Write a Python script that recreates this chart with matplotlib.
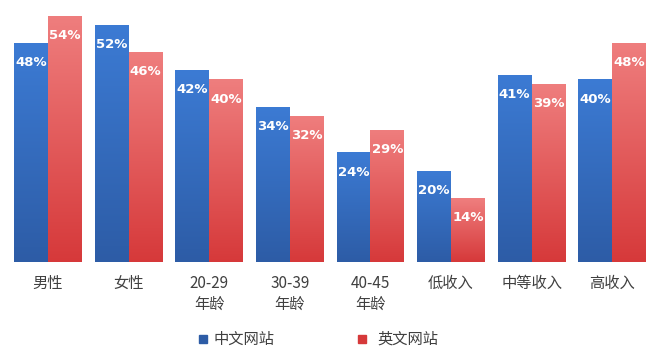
import numpy as np
import matplotlib.pyplot as plt
from matplotlib.colors import LinearSegmentedColormap

plt.rcParams['font.family'] = ['Noto Sans CJK SC', 'DejaVu Sans']

categories = ["男性", "女性", "20-29\n年龄", "30-39\n年龄", "40-45\n年龄", "低收入", "中等收入", "高收入"]
cn_site = [48, 52, 42, 34, 24, 20, 41, 40]
en_site = [54, 46, 40, 32, 29, 14, 39, 48]
series_names = ["中文网站", "英文网站"]

BLUE_TOP, BLUE_BOT = "#3c7bd4", "#2d5ca6"
RED_TOP, RED_BOT = "#ef7e7e", "#d6393a"

fig = plt.figure(figsize=(6.62, 3.59), dpi=100)
ax = fig.add_axes([0.0116, 0.270, 0.974, 0.702])

x = np.arange(len(categories))
w = 0.42
grad = np.linspace(0, 1, 256).reshape(-1, 1)


def gradient_bars(xs, vals, top, bot):
    # bar outline first, gradient image clipped to it
    cmap = LinearSegmentedColormap.from_list("g", [bot, top])
    bars = ax.bar(xs, vals, width=w, color=bot, linewidth=0)
    for b in bars:
        x0 = b.get_x()
        im = ax.imshow(grad, cmap=cmap, aspect="auto", origin="lower",
                       extent=[x0, x0 + b.get_width(), 0, b.get_height()], zorder=2)
        im.set_clip_path(b)
    return bars


gradient_bars(x - w / 2, cn_site, BLUE_TOP, BLUE_BOT)
gradient_bars(x + w / 2, en_site, RED_TOP, RED_BOT)

for i in range(len(categories)):
    ax.text(x[i] - w / 2, cn_site[i] - 4.3, f"{cn_site[i]}%", ha="center", va="center",
            color="white", fontsize=9.5, fontweight="bold", family="DejaVu Sans", zorder=3)
    ax.text(x[i] + w / 2, en_site[i] - 4.3, f"{en_site[i]}%", ha="center", va="center",
            color="white", fontsize=9.5, fontweight="bold", family="DejaVu Sans", zorder=3)

ax.set_xlim(-0.5, len(categories) - 0.5)
ax.set_ylim(0, 55.2)
ax.set_xticks(x)
ax.set_xticklabels(categories, fontsize=11, color="#404040", linespacing=1.3)
ax.tick_params(axis="x", length=0, pad=9)
ax.set_yticks([])
for s in ax.spines.values():
    s.set_visible(False)

# legend
fig.patches.append(plt.Rectangle((199 / 662, 1 - 343 / 359), 8 / 662, 8 / 359,
                                 transform=fig.transFigure, color=BLUE_BOT, figure=fig))
fig.text(214 / 662, 1 - 339 / 359, series_names[0], fontsize=11, color="#404040", va="center")
fig.patches.append(plt.Rectangle((358 / 662, 1 - 343 / 359), 8 / 662, 8 / 359,
                                 transform=fig.transFigure, color=RED_BOT, figure=fig))
fig.text(377 / 662, 1 - 339 / 359, series_names[1], fontsize=11, color="#404040", va="center")

fig.savefig("out.png", dpi=100)
